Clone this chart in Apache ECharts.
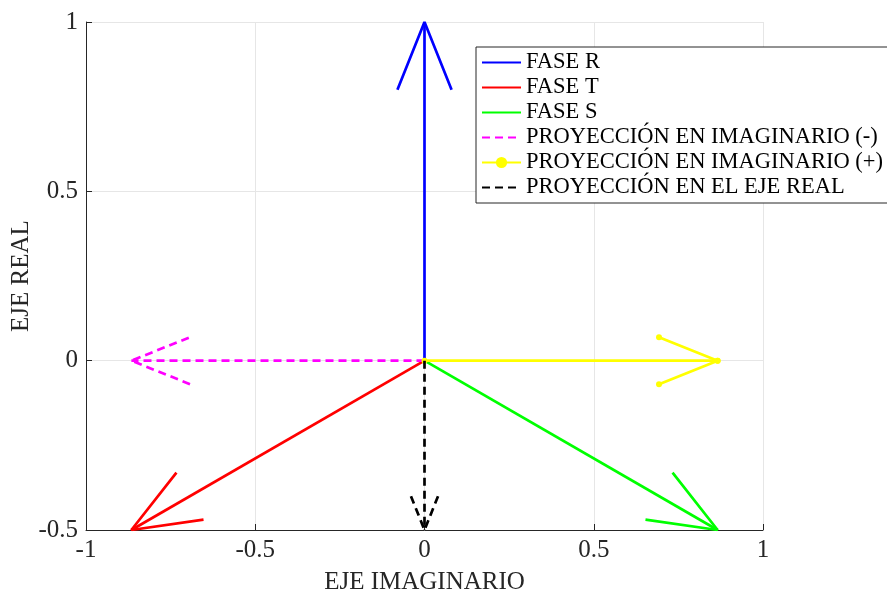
<!DOCTYPE html>
<html>
<head>
<meta charset="utf-8">
<script src="https://cdn.jsdelivr.net/npm/echarts@6/dist/echarts.min.js"></script>
<style>
  html, body { margin: 0; padding: 0; background: #fff; }
  #chart { width: 887px; height: 594px; }
</style>
</head>
<body>
<div id="chart"></div>
<script>
// Phasor names, colours and tip coordinates (all phasors start at the origin)
const phasorNames = [
  'FASE R',
  'FASE T',
  'FASE S',
  'PROYECCIÓN EN IMAGINARIO (-)',
  'PROYECCIÓN EN IMAGINARIO (+)',
  'PROYECCIÓN EN EL EJE REAL'
];
const tipX = [0, -0.866, 0.866, -0.866, 0.866, 0];
const tipY = [1, -0.5, -0.5, 0, 0, -0.5];
const phasorColors = ['#0000ff', '#ff0000', '#00ff00', '#ff00ff', '#ffff00', '#000000'];
const dashed = [false, false, false, true, false, true];
const withMarkers = [false, false, false, false, true, false];

// Axis ticks
const xTicks = [-1, -0.5, 0, 0.5, 1];
const yTicks = [-0.5, 0, 0.5, 1];

// Arrow head geometry, relative to each phasor's length
const HEAD_BACK = 0.2;
const HEAD_HALF = 0.08;

const FONT = '"Liberation Serif", "Times New Roman", serif';

function arrowParts(i) {
  const vx = tipX[i], vy = tipY[i];
  const bx = vx - HEAD_BACK * vx, by = vy - HEAD_BACK * vy;
  // perpendicular to the phasor, scaled by its length
  const px = -vy * HEAD_HALF, py = vx * HEAD_HALF;
  return {
    shaft: [[0, 0], [vx, vy]],
    head: [[bx + px, by + py], [vx, vy], [bx - px, by - py]]
  };
}

const series = [];
phasorNames.forEach((name, i) => {
  const parts = arrowParts(i);
  const lineStyle = {
    color: phasorColors[i],
    width: 2.7,
    type: dashed[i] ? [8, 5] : 'solid',
    cap: 'butt'
  };
  const common = {
    name: name,
    type: 'line',
    animation: false,
    silent: true,
    lineStyle: lineStyle,
    itemStyle: { color: phasorColors[i] },
    symbol: withMarkers[i] ? 'circle' : 'none',
    symbolSize: 6,
    showSymbol: withMarkers[i],
    z: 2 + i
  };
  series.push(Object.assign({}, common, { data: parts.shaft }));
  series.push(Object.assign({}, common, { data: parts.head }));
});

// Legend entries: only the marked series shows its dot in the key
const legendData = phasorNames.map((name, i) => (
  withMarkers[i]
    ? { name: name, itemStyle: { opacity: 1 } }
    : { name: name, itemStyle: { opacity: 0 } }
));

const chart = echarts.init(document.getElementById('chart'), null, { renderer: 'canvas' });
chart.setOption({
  backgroundColor: '#ffffff',
  animation: false,
  grid: {
    left: 86, right: 124, top: 22, bottom: 64,
    containLabel: false,
    outerBoundsMode: 'none'
  },
  xAxis: {
    type: 'value',
    min: xTicks[0],
    max: xTicks[xTicks.length - 1],
    interval: 0.5,
    name: 'EJE IMAGINARIO',
    nameLocation: 'middle',
    nameGap: 40,
    nameMoveOverlap: false,
    nameTextStyle: { fontFamily: FONT, fontSize: 25, color: '#262626' },
    axisLine: { show: true, onZero: false, lineStyle: { color: '#262626', width: 1 } },
    axisTick: { show: true, inside: true, length: 6, lineStyle: { color: '#262626' } },
    axisLabel: {
      fontFamily: FONT, fontSize: 25, color: '#262626', margin: 8,
      formatter: v => String(v)
    },
    splitLine: { show: true, lineStyle: { color: '#e6e6e6', width: 1 } }
  },
  yAxis: {
    type: 'value',
    min: yTicks[0],
    max: yTicks[yTicks.length - 1],
    interval: 0.5,
    name: 'EJE REAL',
    nameLocation: 'middle',
    nameGap: 52,
    nameRotate: 90,
    nameMoveOverlap: false,
    nameTextStyle: { fontFamily: FONT, fontSize: 25, color: '#262626' },
    axisLine: { show: true, onZero: false, lineStyle: { color: '#262626', width: 1 } },
    axisTick: { show: true, inside: true, length: 6, lineStyle: { color: '#262626' } },
    axisLabel: {
      fontFamily: FONT, fontSize: 25, color: '#262626', margin: 8,
      formatter: v => String(v)
    },
    splitLine: { show: true, lineStyle: { color: '#e6e6e6', width: 1 } }
  },
  legend: {
    data: legendData,
    orient: 'vertical',
    left: 476,
    top: 47,
    padding: [3, 60, 3, 5],
    itemWidth: 39,
    itemHeight: 14,
    itemGap: 0,
    backgroundColor: '#ffffff',
    borderColor: '#262626',
    borderWidth: 1,
    borderRadius: 0,
    selectedMode: false,
    textStyle: {
      fontFamily: FONT, fontSize: 22.5, color: '#000000',
      lineHeight: 25, padding: [0, 0, 0, 0]
    }
  },
  series: series
});
</script>
</body>
</html>
